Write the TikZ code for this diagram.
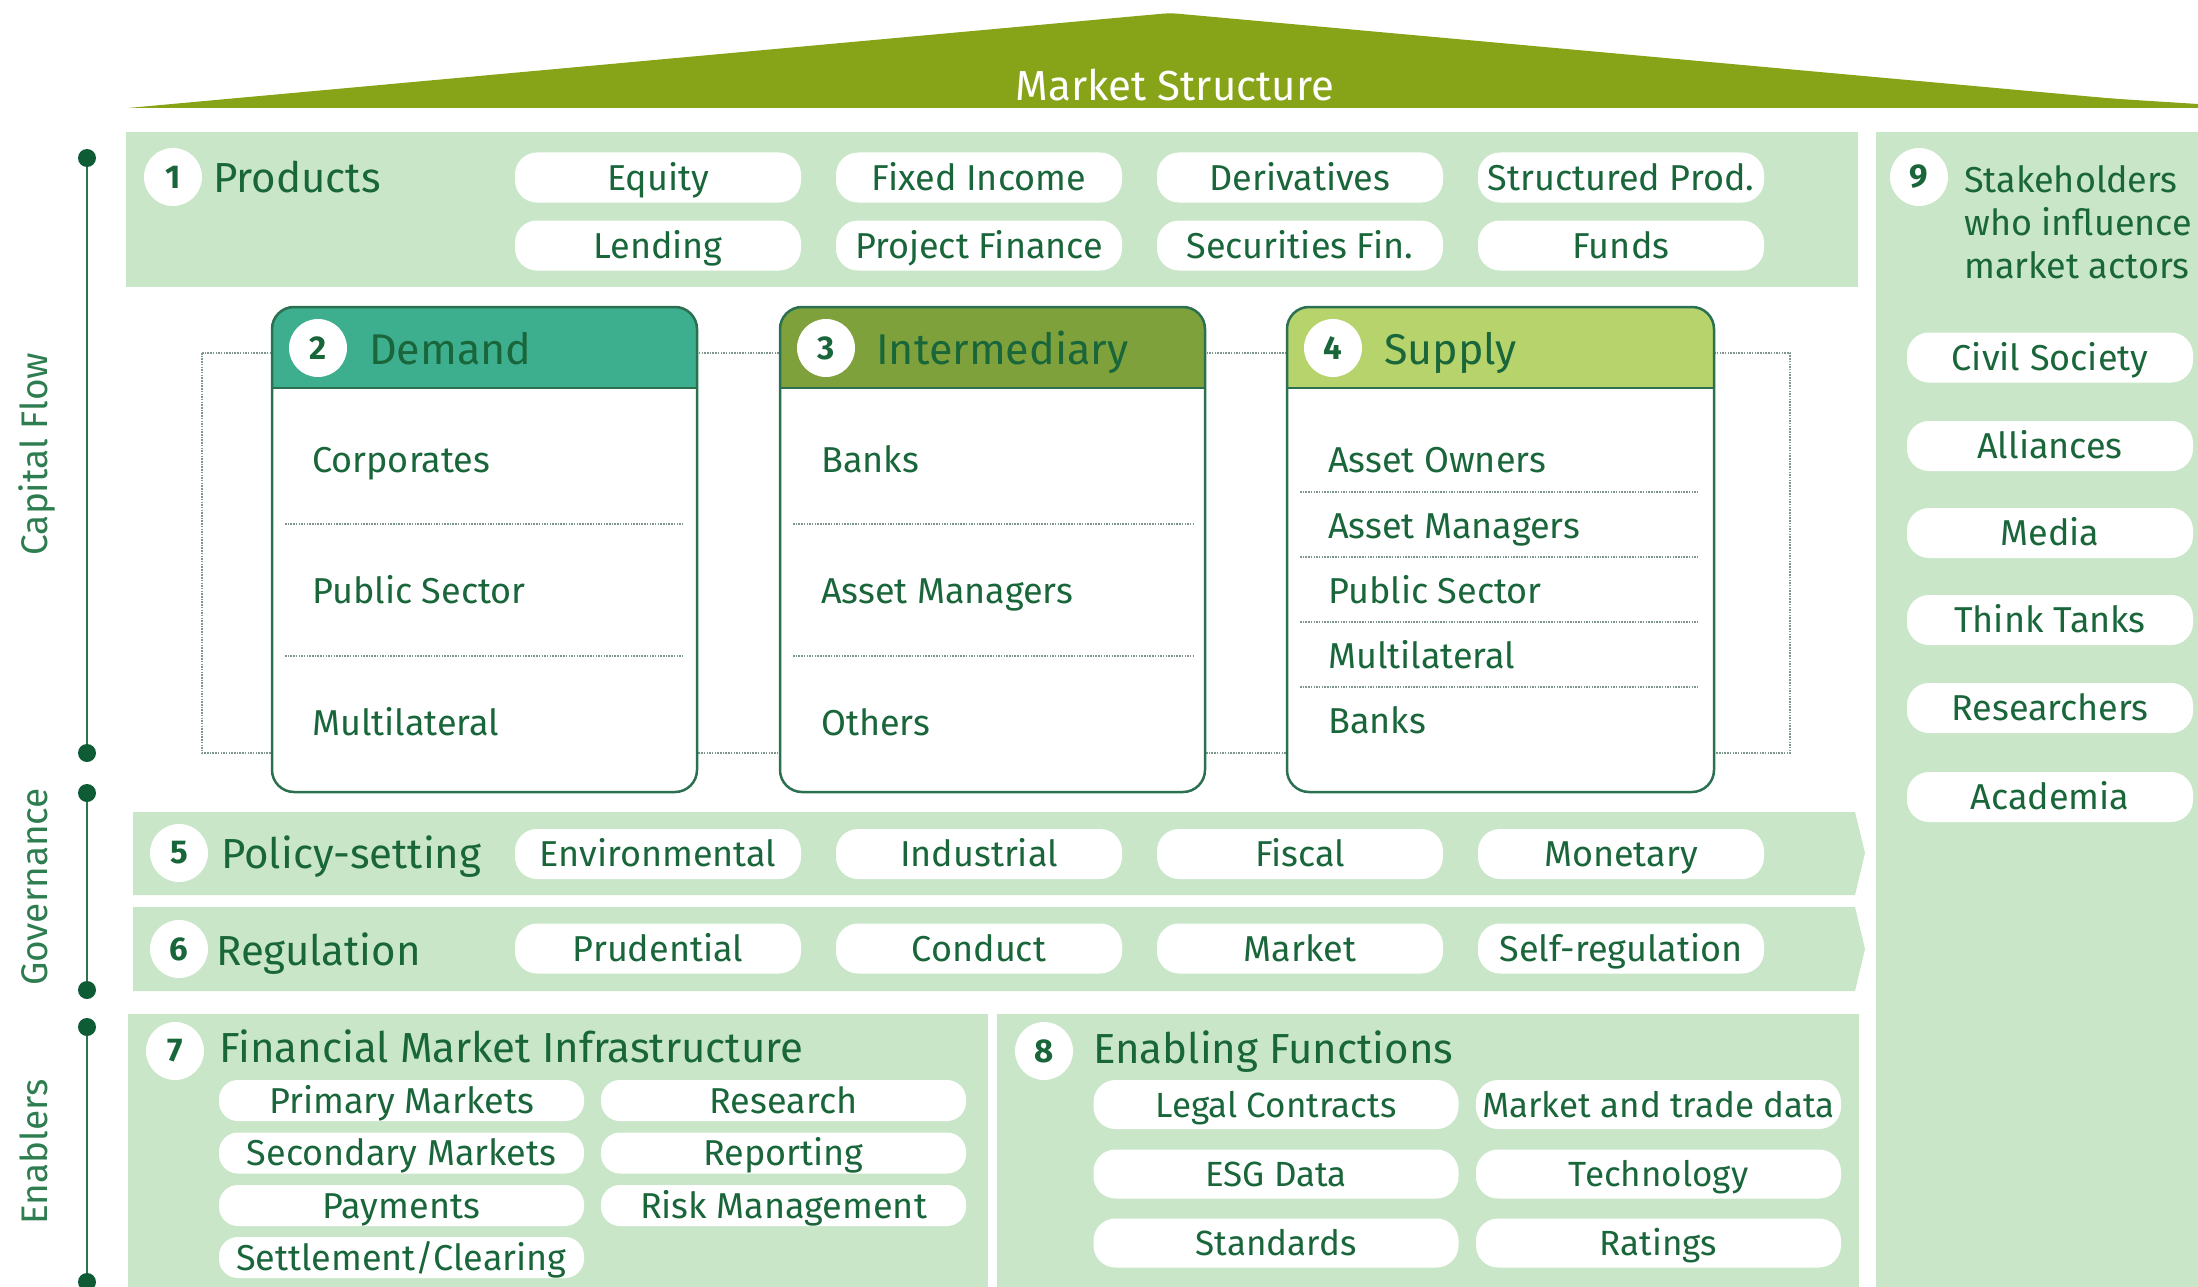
\documentclass[tikz,border=0pt]{standalone}
\usepackage{fontspec}
\setmainfont{Fira Sans}
\usetikzlibrary{shapes.misc}
\definecolor{panelg}{HTML}{C9E7C8}
\definecolor{olivetri}{HTML}{87A419}
\definecolor{tgreen}{HTML}{1A663B}
\definecolor{bordg}{HTML}{2B7050}
\definecolor{tealh}{HTML}{3DAE8E}
\definecolor{interh}{HTML}{7FA13B}
\definecolor{supplyh}{HTML}{B7D36C}
\definecolor{linedk}{HTML}{2A7550}
\definecolor{dotdk}{HTML}{0D5C35}
\definecolor{dotg}{HTML}{7E978A}
\definecolor{sideg}{HTML}{2E7D50}
\newcommand\fsz[1]{\fontsize{#1}{#1}\selectfont}
\begin{document}
\begin{tikzpicture}[x=1pt,y=-1pt,
  pill/.style={fill=white, rounded corners=22pt, minimum width=286pt, minimum height=50pt,
    inner sep=0pt, text=tgreen, font=\fsz{36}, text height=25pt, text depth=0pt},
  fmipill/.style={pill, minimum width=365pt, minimum height=41pt, rounded corners=19pt},
  efpill/.style={pill, minimum width=365pt, minimum height=49pt, font=\fsz{35}},
  numc/.style={circle, fill=white, minimum size=58pt, inner sep=0pt, text=tgreen,
    font=\fsz{33}\bfseries},
  title/.style={anchor=base west, text=tgreen, font=\fsz{42}, inner sep=0pt},
  hdr/.style={anchor=base west, text=tgreen, font=\fsz{43}, inner sep=0pt},
  item/.style={anchor=base west, text=tgreen, font=\fsz{36}, inner sep=0pt},
  side/.style={anchor=base, rotate=90, text=sideg, font=\fsz{37}, inner sep=0pt},
  panel/.style={fill=panelg, draw=none},
  boxb/.style={draw=bordg, line width=2.5pt},
  sep/.style={draw=dotg, line width=2.2pt, dash pattern=on 1.5pt off 1.2pt},
  flowdot/.style={draw=dotg, line width=1.6pt, dash pattern=on 1.5pt off 1.2pt},
  axis/.style={draw=linedk, line width=2.8pt},
  axdot/.style={circle, fill=dotdk, minimum size=18pt, inner sep=0pt}
]
\useasboundingbox (0,0) rectangle (2198,1287);
\clip (0,0) rectangle (2198,1287);

% Market structure roof
\fill[olivetri, rounded corners=8pt] (128,108) -- (1170,13) -- (2260,112) -- (2260,108) [sharp corners] -- cycle;
\fill[olivetri] (1500,60) -- (2198,104) -- (2198,108) -- (1500,108) -- cycle;
\node[anchor=base, text=white, font=\fsz{42}, inner sep=0pt] (ms) at (1175,101) {Market Structure};

% panels
\fill[panel] (126,132) rectangle (1858,287);
\fill[panel] (1876,132) rectangle (2210,1300);
\fill[panel] (133,812) -- (1855,812) -- (1865,853) -- (1855,895) -- (133,895) -- cycle;
\fill[panel] (133,907) -- (1855,907) -- (1865,949) -- (1855,991) -- (133,991) -- cycle;
\fill[panel] (128,1014) rectangle (988,1300);
\fill[panel] (997,1014) rectangle (1859,1300);

% side axes
\coordinate (cf1) at (87,158); \coordinate (cf2) at (87,753);
\coordinate (gv1) at (87,793); \coordinate (gv2) at (87,990);
\coordinate (en1) at (87,1027); \coordinate (en2) at (87,1282);
\draw[axis] (cf1) -- (cf2);
\draw[axis] (gv1) -- (gv2);
\draw[axis] (en1) -- (en2);
\foreach \p in {cf1,cf2,gv1,gv2,en1,en2} \node[axdot] at (\p) {};
\node[side] (capflow) at (47,454) {Capital Flow};
\node[side] (gov) at (47,887) {Governance};
\node[side] (enab) at (47,1152) {Enablers};

% 1 Products
\node[numc] (n1) at (173,177) {1};
\node[title] (prod) at (213,192) {Products};
\foreach \t/\x/\y [count=\i] in {Equity/658/177.5, Fixed Income/979/177.5, Derivatives/1300/177.5, Structured Prod./1621/177.5,
   Lending/658/245.5, Project Finance/979/245.5, Securities Fin./1300/245.5, Funds/1621/245.5}
  \node[pill] (p\i) at (\x,\y) {\t};

% 9 Stakeholders
\node[numc] (n9) at (1919,177) {9};
\node[item] (st1) at (1964,192) {Stakeholders};
\node[item] (st2) at (1964,235) {who influence};
\node[item] (st3) at (1964,278) {market actors};
\foreach \t/\y [count=\i] in {Civil Society/357.5, Alliances/446, Media/533, Think Tanks/620, Researchers/708, Academia/797}
  \node[pill] (s\i) at (2050,\y) {\t};

% capital flow dotted frame
\coordinate (fa) at (202,353); \coordinate (fb) at (1790,753);
\draw[flowdot] (fa) rectangle (fb);

% boxes 2,3,4
\foreach \xl/\xr/\col/\nm in {272/697/tealh/dem, 780/1205/interh/int, 1287/1714/supplyh/sup}{
  \fill[white, rounded corners=22pt] (\xl,307) rectangle (\xr,792);
  \fill[\col] (\xl,388) [rounded corners=22pt] -- (\xl,307) -- (\xr,307) [sharp corners] -- (\xr,388) -- cycle;
  \draw[boxb, rounded corners=22pt] (\xl,307) rectangle (\xr,792);
  \draw[boxb] (\xl,388) -- (\xr,388);
}
\node[numc] (n2) at (318,348) {2};
\node[hdr] (hdem) at (369,364) {Demand};
\node[numc] (n3) at (826,348) {3};
\node[hdr] (hint) at (876,364) {Intermediary};
\node[numc] (n4) at (1333,348) {4};
\node[hdr] (hsup) at (1384,364) {Supply};

\node[item] (d1) at (312,472) {Corporates};
\node[item] (d2) at (312,603) {Public Sector};
\node[item] (d3) at (312,735) {Multilateral};
\draw[sep] (285,524) -- (684,524);
\draw[sep] (285,656) -- (684,656);

\node[item] (i1) at (821,472) {Banks};
\node[item] (i2) at (821,603) {Asset Managers};
\node[item] (i3) at (821,735) {Others};
\draw[sep] (793,524) -- (1193,524);
\draw[sep] (793,656) -- (1193,656);

\node[item] (u1) at (1328,472) {Asset Owners};
\node[item] (u2) at (1328,538) {Asset Managers};
\node[item] (u3) at (1328,603) {Public Sector};
\node[item] (u4) at (1328,668) {Multilateral};
\node[item] (u5) at (1328,733) {Banks};
\foreach \y in {492,557,622,687} \draw[sep] (1300,\y) -- (1699,\y);

% 5 Policy-setting
\node[numc] (n5) at (179,853) {5};
\node[title] (pol) at (221,868) {Policy-setting};
\foreach \t/\x [count=\i] in {Environmental/658, Industrial/979, Fiscal/1300, Monetary/1621}
  \node[pill] (ps\i) at (\x,854) {\t};

% 6 Regulation
\node[numc] (n6) at (179,949) {6};
\node[title] (reg) at (216,965) {Regulation};
\foreach \t/\x [count=\i] in {Prudential/658, Conduct/979, Market/1300, Self-regulation/1621}
  \node[pill] (rg\i) at (\x,948.5) {\t};

% 7 FMI
\node[numc] (n7) at (175,1051) {7};
\node[title] (fmi) at (219,1062) {Financial Market Infrastructure};
\node[fmipill] (f1) at (401.5,1100.5) {Primary Markets};
\node[fmipill] (f2) at (783.5,1100.5) {Research};
\node[fmipill] (f3) at (401.5,1153) {Secondary Markets};
\node[fmipill] (f4) at (783.5,1153) {Reporting};
\node[fmipill] (f5) at (401.5,1205.5) {Payments};
\node[fmipill] (f6) at (783.5,1205.5) {Risk Management};
\node[fmipill] (f7) at (401.5,1257.5) {Settlement/Clearing};

% 8 Enabling functions
\node[numc] (n8) at (1044,1051) {8};
\node[title] (ef) at (1093,1063) {Enabling Functions};
\node[efpill] (e1) at (1276,1104.5) {Legal Contracts};
\node[efpill] (e2) at (1658.5,1104.5) {Market and trade data};
\node[efpill] (e3) at (1276,1174) {ESG Data};
\node[efpill] (e4) at (1658.5,1174) {Technology};
\node[efpill] (e5) at (1276,1243) {Standards};
\node[efpill] (e6) at (1658.5,1243) {Ratings};
\end{tikzpicture}
\end{document}
